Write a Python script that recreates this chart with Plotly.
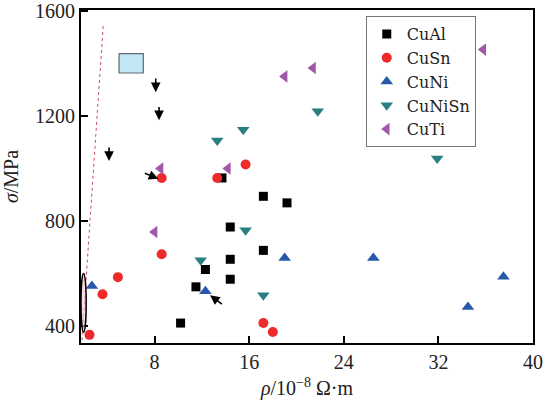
import plotly.graph_objects as go

# ---- data (rho in 1e-8 Ohm*m, sigma in MPa) ----
cual_x = [13.7, 10.2, 11.5, 12.3, 14.4, 14.4, 14.4, 17.2, 17.2, 19.2]
cual_y = [964, 411, 549, 615, 777, 654, 578, 894, 688, 869]

cusn_x = [2.5, 3.6, 4.9, 8.6, 8.6, 13.3, 15.7, 17.2, 18.0]
cusn_y = [366, 521, 586, 673, 964, 964, 1015, 411, 377]

cuni_x = [2.7, 12.3, 19.0, 26.5, 34.5, 37.5]
cuni_y = [552, 532, 659, 659, 472, 587]

cunisn_x = [11.9, 13.3, 15.5, 15.7, 17.2, 21.8, 31.9]
cunisn_y = [650, 1107, 1148, 765, 517, 1218, 1038]

cuti_x = [8.0, 8.5, 14.2, 19.0, 21.4, 35.8]
cuti_y = [758, 1000, 1000, 1351, 1383, 1453]

guide_x = [1.86, 3.67]
guide_y = [345, 1552]

# arrows: (tip_x, tip_y, tail_x, tail_y)
arrows = [
    (8.1, 1291, 8.1, 1349),
    (8.38, 1184, 8.38, 1240),
    (4.15, 1029, 4.15, 1086),
    (8.32, 961, 7.05, 984),
    (12.69, 517, 13.82, 479),
]

series = [
    ("CuAl", cual_x, cual_y, "square", "#000000", 9),
    ("CuSn", cusn_x, cusn_y, "circle", "#ee2a2a", 10),
    ("CuNi", cuni_x, cuni_y, "triangle-up", "#2558a8", 11),
    ("CuNiSn", cunisn_x, cunisn_y, "triangle-down", "#2a8080", 11),
    ("CuTi", cuti_x, cuti_y, "triangle-left", "#a258a8", 11),
]

FONT = "Liberation Serif"

fig = go.Figure()

fig.add_trace(go.Scatter(
    x=guide_x, y=guide_y, mode="lines", showlegend=False,
    line=dict(color="#c8505a", width=1, dash="dot"), hoverinfo="skip"))

for name, xs, ys, sym, col, sz in series:
    fig.add_trace(go.Scatter(
        x=xs, y=ys, mode="markers", name=name,
        marker=dict(symbol=sym, color=col, size=sz, line=dict(width=0))))

# light-blue rectangle
fig.add_shape(type="rect", x0=5.0, x1=7.05, y0=1364, y1=1438,
              fillcolor="#c3e6f5", line=dict(color="#606870", width=1.2), layer="above")
# narrow ellipse near the left axis
fig.add_shape(type="circle", x0=1.78, x1=2.22, y0=376, y1=600,
              fillcolor="rgba(245,200,210,0.6)", line=dict(color="#000", width=1.5), layer="above")

for tx, ty, ax_, ay_ in arrows:
    fig.add_annotation(x=tx, y=ty, ax=ax_, ay=ay_, xref="x", yref="y",
                       axref="x", ayref="y", text="", showarrow=True,
                       arrowhead=2, arrowsize=1.2, arrowwidth=1.6, arrowcolor="#000")

fig.update_layout(
    width=554, height=400,
    margin=dict(l=81, r=21, t=10, b=57),
    paper_bgcolor="white", plot_bgcolor="white",
    font=dict(family=FONT, size=20, color="#222"),
    legend=dict(x=0.63, y=0.982, xanchor="left", yanchor="top",
                bordercolor="#777", borderwidth=1, bgcolor="white",
                font=dict(family="DejaVu Serif", size=16, color="#222"),
                tracegroupgap=0, itemwidth=30),
)

fig.update_xaxes(range=[1.78, 40], tickvals=[8, 16, 24, 32, 40],
                 ticks="inside", ticklen=7, tickwidth=1.8, tickcolor="#000",
                 showline=True, linecolor="#000", linewidth=1.8, mirror=True,
                 showgrid=False, zeroline=False, automargin=False,
                 title=dict(text="<i>ρ</i>/10<sup>−8</sup> Ω·m",
                            font=dict(family=FONT, size=20)))
fig.update_yaxes(range=[335, 1604], tickvals=[400, 800, 1200, 1600],
                 ticks="inside", ticklen=7, tickwidth=1.8, tickcolor="#000",
                 showline=True, linecolor="#000", linewidth=1.8, mirror=True,
                 showgrid=False, zeroline=False, automargin=False,
                 title=dict(text="<i>σ</i>/MPa",
                            font=dict(family=FONT, size=20)))

fig.write_html("out.html")
